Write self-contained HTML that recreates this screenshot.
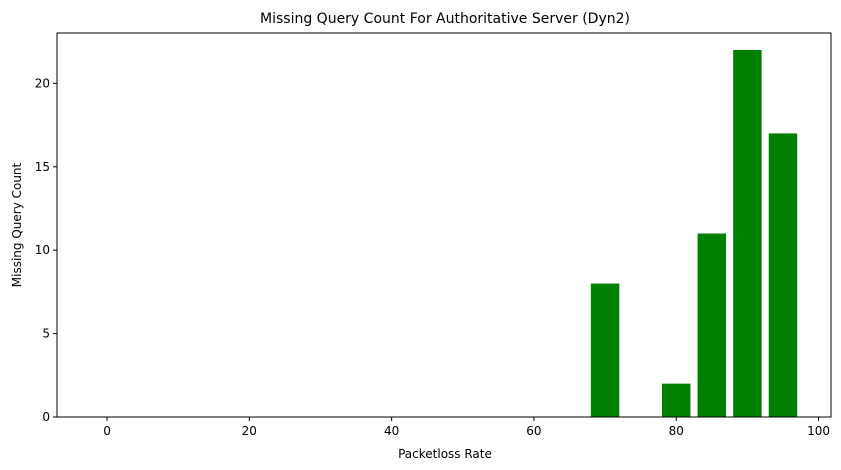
<!DOCTYPE html>
<html><head><meta charset="utf-8"><style>
body{margin:0;background:#fff;}
svg{display:block;font-family:"DejaVu Sans","Liberation Sans",sans-serif;}
</style></head><body>
<svg id="chart" width="841" height="470">
<text x="445" y="23" text-anchor="middle" font-size="14">Missing Query Count For Authoritative Server (Dyn2)</text>
<g id="bars"></g>
<g id="axes"></g>
<text x="445" y="458" text-anchor="middle" font-size="12">Packetloss Rate</text>
<text transform="translate(21,225) rotate(-90)" text-anchor="middle" font-size="12">Missing Query Count</text>
</svg>
<script>
const rates=[0,5,10,15,20,25,30,35,40,45,50,55,60,65,70,75,80,85,90,95];
const counts=[0,0,0,0,0,0,0,0,0,0,0,0,0,0,8,0,2,11,22,17];
const xTicks=[0,20,40,60,80,100];
const yTicks=[0,5,10,15,20];
const L=57,R=831,T=33,B=417;
const xMin=-7.03,xMax=101.75,yMax=23.02;
const xs=v=>L+(v-xMin)/(xMax-xMin)*(R-L);
const ys=v=>B-v/yMax*(B-T);
const NS="http://www.w3.org/2000/svg";
const bars=document.getElementById('bars'),axes=document.getElementById('axes');
function mk(tag,attrs,parent){const e=document.createElementNS(NS,tag);for(const k in attrs)e.setAttribute(k,attrs[k]);parent.appendChild(e);return e;}
rates.forEach((r,i)=>{
  const x0=xs(r-2),x1=xs(r+2);
  const b=mk('rect',{x:x0,y:ys(counts[i]),width:x1-x0,height:B-ys(counts[i]),fill:'#008000'},bars);
  
  
});
const frame=mk('rect',{x:L,y:T,width:R-L,height:B-T,fill:'none',stroke:'#000','stroke-width':1},axes);


xTicks.forEach(t=>{
  const x=xs(t);
  mk('line',{x1:x,x2:x,y1:B,y2:B+4,stroke:'#000'},axes);
  const tx=mk('text',{x:x,y:B+18,'text-anchor':'middle','font-size':12},axes);
  tx.textContent=t;
  
  
});
yTicks.forEach(t=>{
  const y=ys(t);
  mk('line',{x1:L-4,x2:L,y1:y,y2:y,stroke:'#000'},axes);
  const tx=mk('text',{x:L-7,y:y+4,'text-anchor':'end','font-size':12},axes);
  tx.textContent=t;
  
  
});
</script>
</body></html>
